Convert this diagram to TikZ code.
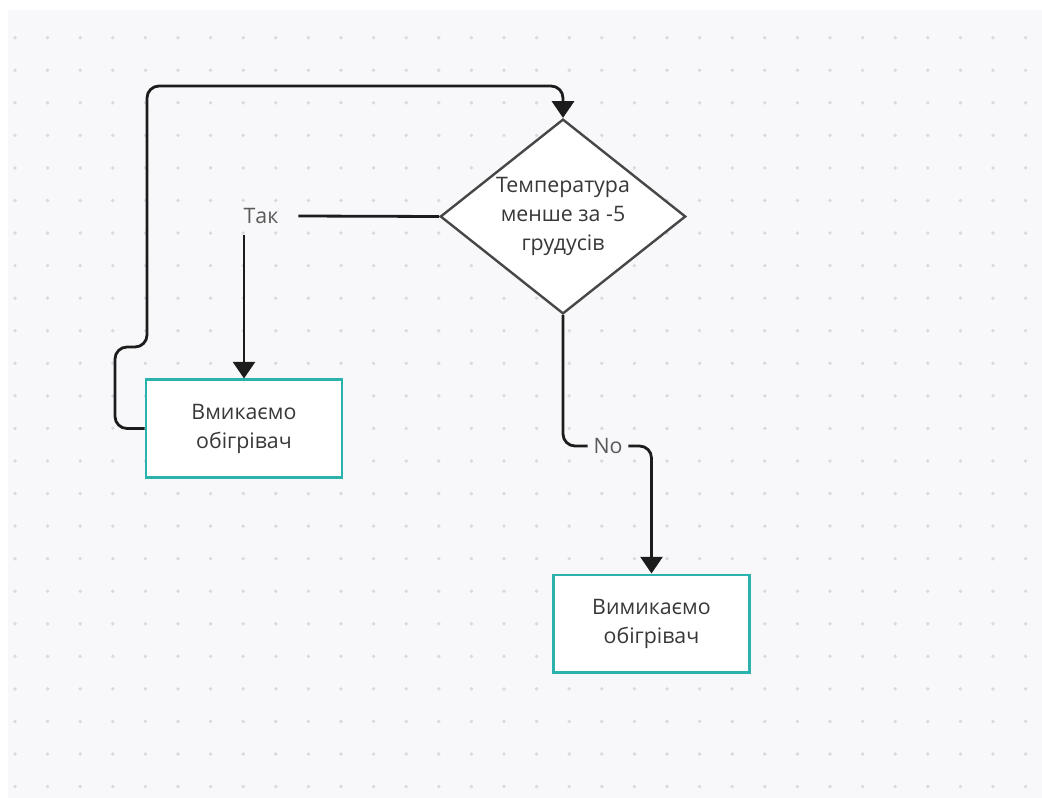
\documentclass[tikz,border=0pt]{standalone}
\usepackage{fontspec}
\setmainfont{Open Sans}
\usepackage{xcolor}
\usetikzlibrary{arrows.meta,positioning,shapes.geometric}
\definecolor{boardbg}{HTML}{F8F8FA}
\definecolor{griddot}{HTML}{D9D9DE}
\definecolor{tealline}{HTML}{2CB2AD}
\definecolor{inkline}{HTML}{1C1C1C}
\definecolor{shapeline}{HTML}{474747}
\definecolor{bodytxt}{HTML}{383838}
\definecolor{labeltxt}{HTML}{595959}

\begin{document}
\begin{tikzpicture}[x=0.75pt,y=-0.75pt,
  decision/.style={diamond,draw=shapeline,line width=1.8pt,fill=white,shape aspect=1.26,
                   minimum width=182pt,minimum height=145pt,inner sep=0pt,align=center,
                   font=\fontsize{16}{21.75}\selectfont,text=bodytxt},
  action/.style={rectangle,draw=tealline,line width=2pt,fill=white,minimum width=147pt,
                 minimum height=73pt,align=center,font=\fontsize{16}{21.75}\selectfont,text=bodytxt},
  flowlabel/.style={inner sep=0pt,minimum height=28.5pt,font=\fontsize{16}{20}\selectfont,text=labeltxt},
  flow/.style={draw=inkline,line width=2.1pt,rounded corners=9pt},
  arr/.style={flow,-{Triangle[width=16.5pt,length=12.5pt]}}
]
  \useasboundingbox (0,0) rectangle (1042,798);
  \fill[boardbg] (8,10) rectangle (1042,798);
  \foreach \i in {0,...,31}
    \foreach \j in {0,...,23}
      \fill[griddot] (15+32.6*\i,37.7+32.56*\j) circle (1.4pt);

  \node[decision] (dec) at (563,216.5) {\raisebox{-2pt}{\parbox{110pt}{\centering Температура\\менше за -5\\грудусів}}};
  \node[action] (on)  at (244,428.5) {\raisebox{-1.5pt}{\parbox{100pt}{\centering Вмикаємо\\обігрівач}}};
  \node[action] (off) at (651.5,623.5) {\raisebox{-1.5pt}{\parbox{100pt}{\centering Вимикаємо\\обігрівач}}};
  \node[flowlabel,minimum width=55.5pt] (yes) at (261,216) {Так};
  \node[flowlabel,minimum width=30pt] (no) at (608,446) {No};

  \draw[flow] (dec.west) -- (yes.east);
  \draw[arr] (on.north |- yes.south) -- (on.north);
  \draw[flow] (dec.south) |- (no.west);
  \draw[arr] (no.east) -| (off.north);
  \draw[arr] (on.west) -- (115,428.5) -- (115,347) -- (147,347) -- (147,86) -- (563,86) -- (dec.north);
\end{tikzpicture}
\end{document}
